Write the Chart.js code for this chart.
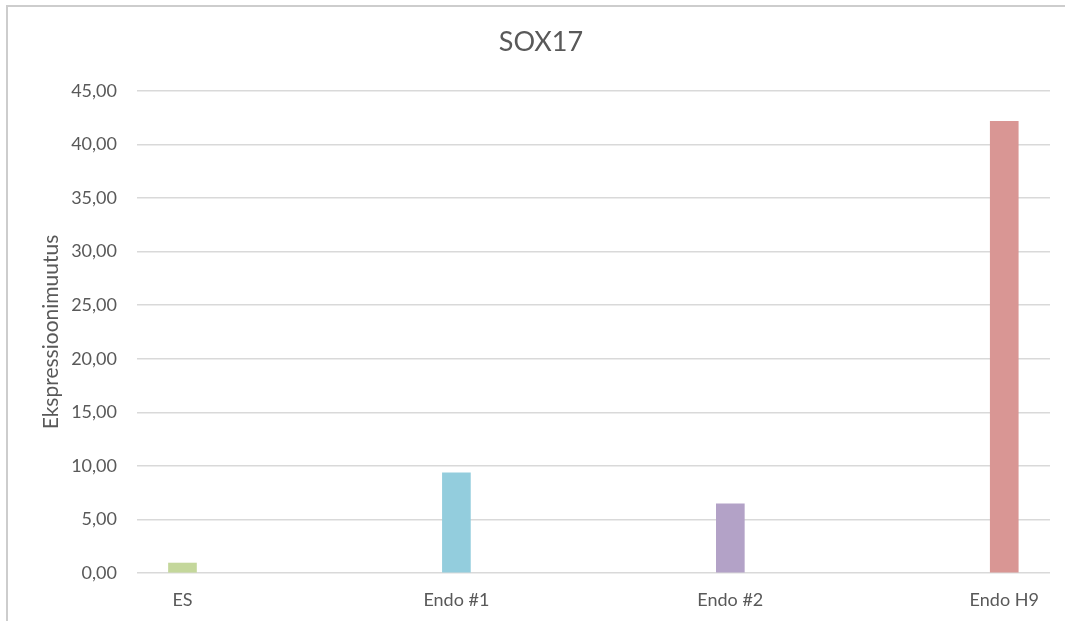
<!DOCTYPE html>
<html>
<head>
<meta charset="utf-8">
<script src="https://cdn.jsdelivr.net/npm/chart.js@4/dist/chart.umd.min.js"></script>
<style>
  html, body { margin: 0; padding: 0; background: #fff; overflow: hidden; }
  #sox17Chart { display: block; }
</style>
</head>
<body>
<canvas id="sox17Chart" width="1065" height="621"></canvas>
<script>
// Näytteet ja SOX17-ilmentymän muutos
const samples = ["ES", "Endo #1", "Endo #2", "Endo H9"];
const expression = [0.93, 9.36, 6.46, 42.18];
const barColors = ["#c4d79b", "#93cddd", "#b3a2c7", "#d99694"];
const yTicks = [0, 5, 10, 15, 20, 25, 30, 35, 40, 45];

const textColor = '#595959';
const fontFamily = 'Lato, "Open Sans", sans-serif';

// reunaviiva kaavion ylä- ja vasemmassa laidassa
const frameLines = {
    id: 'frameLines',
    beforeDraw(chart) {
        const c = chart.ctx;
        c.save();
        c.strokeStyle = '#cdcdcd';
        c.lineWidth = 2;
        c.beginPath();
        c.moveTo(7, chart.height);
        c.lineTo(7, 6);
        c.lineTo(chart.width, 6);
        c.stroke();
        c.restore();
    }
};

var sox17Chart;
document.addEventListener('DOMContentLoaded', function () {
    var ctx = document.getElementById('sox17Chart').getContext('2d');
    sox17Chart = new Chart(ctx, {
        type: 'bar',
        data: {
            datasets: [{
                label: 'SOX17',
                data: expression.map((v, i) => ({ x: i, y: v })),
                backgroundColor: barColors,
                borderWidth: 0,
                barThickness: 28
            }]
        },
        plugins: [frameLines],
        options: {
            responsive: false,
            animation: false,
            layout: { padding: { left: 32, right: 15, top: 0, bottom: 0 } },
            plugins: {
                legend: { display: false },
                tooltip: { enabled: false },
                title: {
                    display: true,
                    text: 'SOX17',
                    color: textColor,
                    font: { family: fontFamily, size: 27, weight: 'normal' },
                    padding: { top: 26, bottom: 32.6 }
                }
            },
            scales: {
                x: {
                    type: 'linear',
                    offset: false,
                    min: -0.166,
                    max: 3.167,
                    grid: { display: false },
                    border: { display: false },
                    afterBuildTicks: function (scale) {
                        scale.ticks = samples.map((s, i) => ({ value: i }));
                    },
                    afterFit: function (scale) { scale.height = 48; },
                    ticks: {
                        color: textColor,
                        padding: 8,
                        maxRotation: 0,
                        font: { family: fontFamily, size: 18 },
                        callback: function (value) { return samples[value]; }
                    }
                },
                y: {
                    min: 0,
                    max: 45,
                    afterBuildTicks: function (scale) {
                        scale.ticks = yTicks.map(v => ({ value: v }));
                    },
                    afterFit: function (scale) { scale.width = 105; },
                    grid: { color: '#d9d9d9', lineWidth: 1.5, drawTicks: false },
                    border: { display: false },
                    title: {
                        display: true,
                        text: 'Ekspressioonimuutus',
                        color: textColor,
                        font: { family: fontFamily, size: 21 },
                        padding: { top: 7, bottom: 0 }
                    },
                    ticks: {
                        color: textColor,
                        padding: 20,
                        font: { family: fontFamily, size: 18 },
                        callback: function (value) { return value.toFixed(2).replace('.', ','); }
                    }
                }
            }
        }
    });
});
</script>
</body>
</html>
